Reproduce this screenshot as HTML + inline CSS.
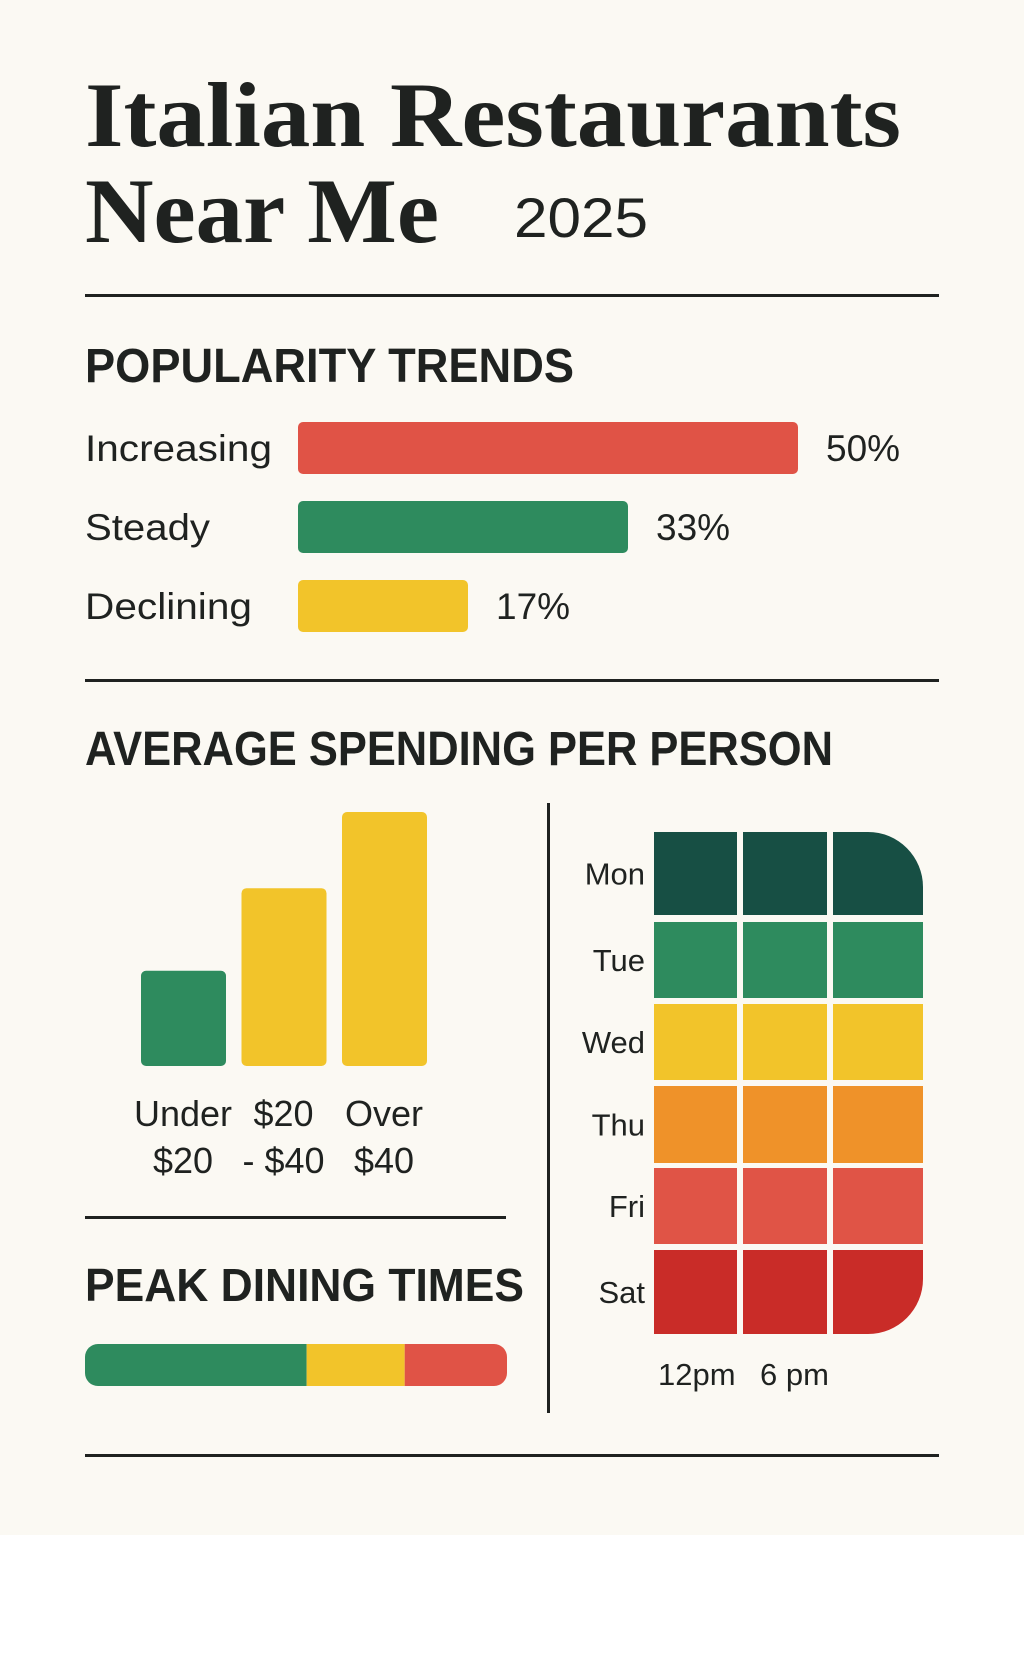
<!DOCTYPE html>
<html><head><meta charset="utf-8"><style>
html,body{margin:0;padding:0;background:#fff;}
svg{display:block;}
text{fill:#1f2220;}
.sans{font-family:"Liberation Sans","DejaVu Sans",sans-serif;}
.serif{font-family:"Liberation Serif",serif;font-weight:bold;}
</style></head><body>
<svg id="chart" width="1024" height="1666" viewBox="0 0 1024 1666">
  <rect x="0" y="0" width="1024" height="1535" fill="#fbf9f3"/>
  <text class="serif" x="85" y="146" font-size="92" textLength="816" lengthAdjust="spacingAndGlyphs">Italian Restaurants</text>
  <text class="serif" x="85" y="242" font-size="92" textLength="354" lengthAdjust="spacingAndGlyphs">Near Me</text>
  <text class="sans" x="514" y="237" font-size="56" textLength="134" lengthAdjust="spacingAndGlyphs">2025</text>
  <rect x="85" y="294" width="854" height="3" fill="#1f2220"/>
  <text class="sans" x="85" y="382" font-size="48" font-weight="bold" textLength="489" lengthAdjust="spacingAndGlyphs">POPULARITY TRENDS</text>
  <g id="pop"></g>
  <rect x="85" y="679" width="854" height="3" fill="#1f2220"/>
  <text class="sans" x="85" y="765" font-size="48" font-weight="bold" textLength="748" lengthAdjust="spacingAndGlyphs">AVERAGE SPENDING PER PERSON</text>
  <rect x="547" y="803" width="3" height="610" fill="#1f2220"/>
  <g id="spend"></g>
  <rect x="85" y="1216" width="421" height="3" fill="#1f2220"/>
  <text class="sans" x="85" y="1301" font-size="46" font-weight="bold" textLength="439" lengthAdjust="spacingAndGlyphs">PEAK DINING TIMES</text>
  <g id="peak"></g>
  <defs><clipPath id="hmclip"><path d="M654 832 H868 A55 55 0 0 1 923 887 V1279 A55 55 0 0 1 868 1334 H654 Z"/></clipPath></defs>
  <g id="heat"></g>
  <rect x="85" y="1454" width="854" height="3" fill="#1f2220"/>
</svg>
<script>
const NS="http://www.w3.org/2000/svg";
const popCategories=["Increasing","Steady","Declining"];
const popValues=[50,33,17];
const popColors=["#e05346","#2e8b5e","#f2c42a"];
const spendCategories=[["Under","$20"],["$20","- $40"],["Over","$40"]];
const spendValues=[30,56,80];
const spendColors=["#2e8b5e","#f2c42a","#f2c42a"];
const peakValues=[52,23,24];
const peakColors=["#2e8b5e","#f2c42a","#e05346"];
const days=["Mon","Tue","Wed","Thu","Fri","Sat"];
const timeLabels=["12pm","6 pm"];
const heatValues=[[6,6,6],[5,5,5],[4,4,4],[3,3,3],[2,2,2],[1,1,1]];
const heatPalette=["#c92c28","#e05446","#ef9229","#f2c42a","#2e8b5e","#174f44"];

function mk(tag,attrs,parent,text){const e=document.createElementNS(NS,tag);for(const k in attrs)e.setAttribute(k,attrs[k]);if(text!==undefined)e.textContent=text;parent.appendChild(e);return e;}

// popularity
const pop=document.getElementById('pop');
const popX=v=>298+v*10.0;
const labelW=[187,125,167];
popCategories.forEach((c,i)=>{
  const y=422+i*79;
  const t=mk('text',{x:85,y:y+39,'font-size':37,class:'sans',textLength:labelW[i],lengthAdjust:'spacingAndGlyphs'},pop,c);
  
  
  const r=mk('rect',{x:298,y:y,width:popX(popValues[i])-298,height:52,rx:5,fill:popColors[i]},pop);
  
  
  const v=mk('text',{x:popX(popValues[i])+28,y:y+39,'font-size':37,class:'sans'},pop,popValues[i]+'%');
  
  
});

// spending
const spend=document.getElementById('spend');
const base=1066,k=3.175;
spendCategories.forEach((c,i)=>{
  const x=141+i*100.5;
  const h=spendValues[i]*k;
  const r=mk('rect',{x:x,y:base-h,width:85,height:h,rx:5,fill:spendColors[i]},spend);
  
  
  const t1=mk('text',{x:x+42,y:1126,'font-size':36,'text-anchor':'middle',class:'sans'},spend,c[0]);
  
  
  const t2=mk('text',{x:x+42,y:1173,'font-size':36,'text-anchor':'middle',class:'sans'},spend,c[1]);
  
  
});

// peak bar
const peak=document.getElementById('peak');
const cp=mk('clipPath',{id:'peakclip'},peak);
mk('rect',{x:85,y:1344,width:422,height:42,rx:13},cp);
const tot=peakValues.reduce((a,b)=>a+b,0);
let px=85;
peakValues.forEach((v,i)=>{
  const w=v/tot*422;
  const r=mk('rect',{x:px,y:1344,width:w,height:42,fill:peakColors[i],'clip-path':'url(#peakclip)'},peak);
  
  
  px+=w;
});

// heatmap
const heat=document.getElementById('heat');
const cols=[654,743,833], colW=[83,84,90];
const rowsY=[832,922,1004,1086,1168,1250], rowsH=[83,76,76,77,76,84];
const cells=mk('g',{'clip-path':'url(#hmclip)'},heat);
days.forEach((d,r)=>{
  const t=mk('text',{x:645,y:rowsY[r]+rowsH[r]/2+11,'font-size':31,'text-anchor':'end',class:'sans'},heat,d);
  
  
  heatValues[r].forEach((v,c)=>{
    const e=mk('rect',{x:cols[c],y:rowsY[r],width:colW[c],height:rowsH[r],fill:heatPalette[v-1]},cells);
    
    
  });
});
timeLabels.forEach((l,i)=>{
  const t=mk('text',{x:[658,760][i],y:1385,'font-size':31,class:'sans'},heat,l);
  
  
});
</script>
</body></html>
